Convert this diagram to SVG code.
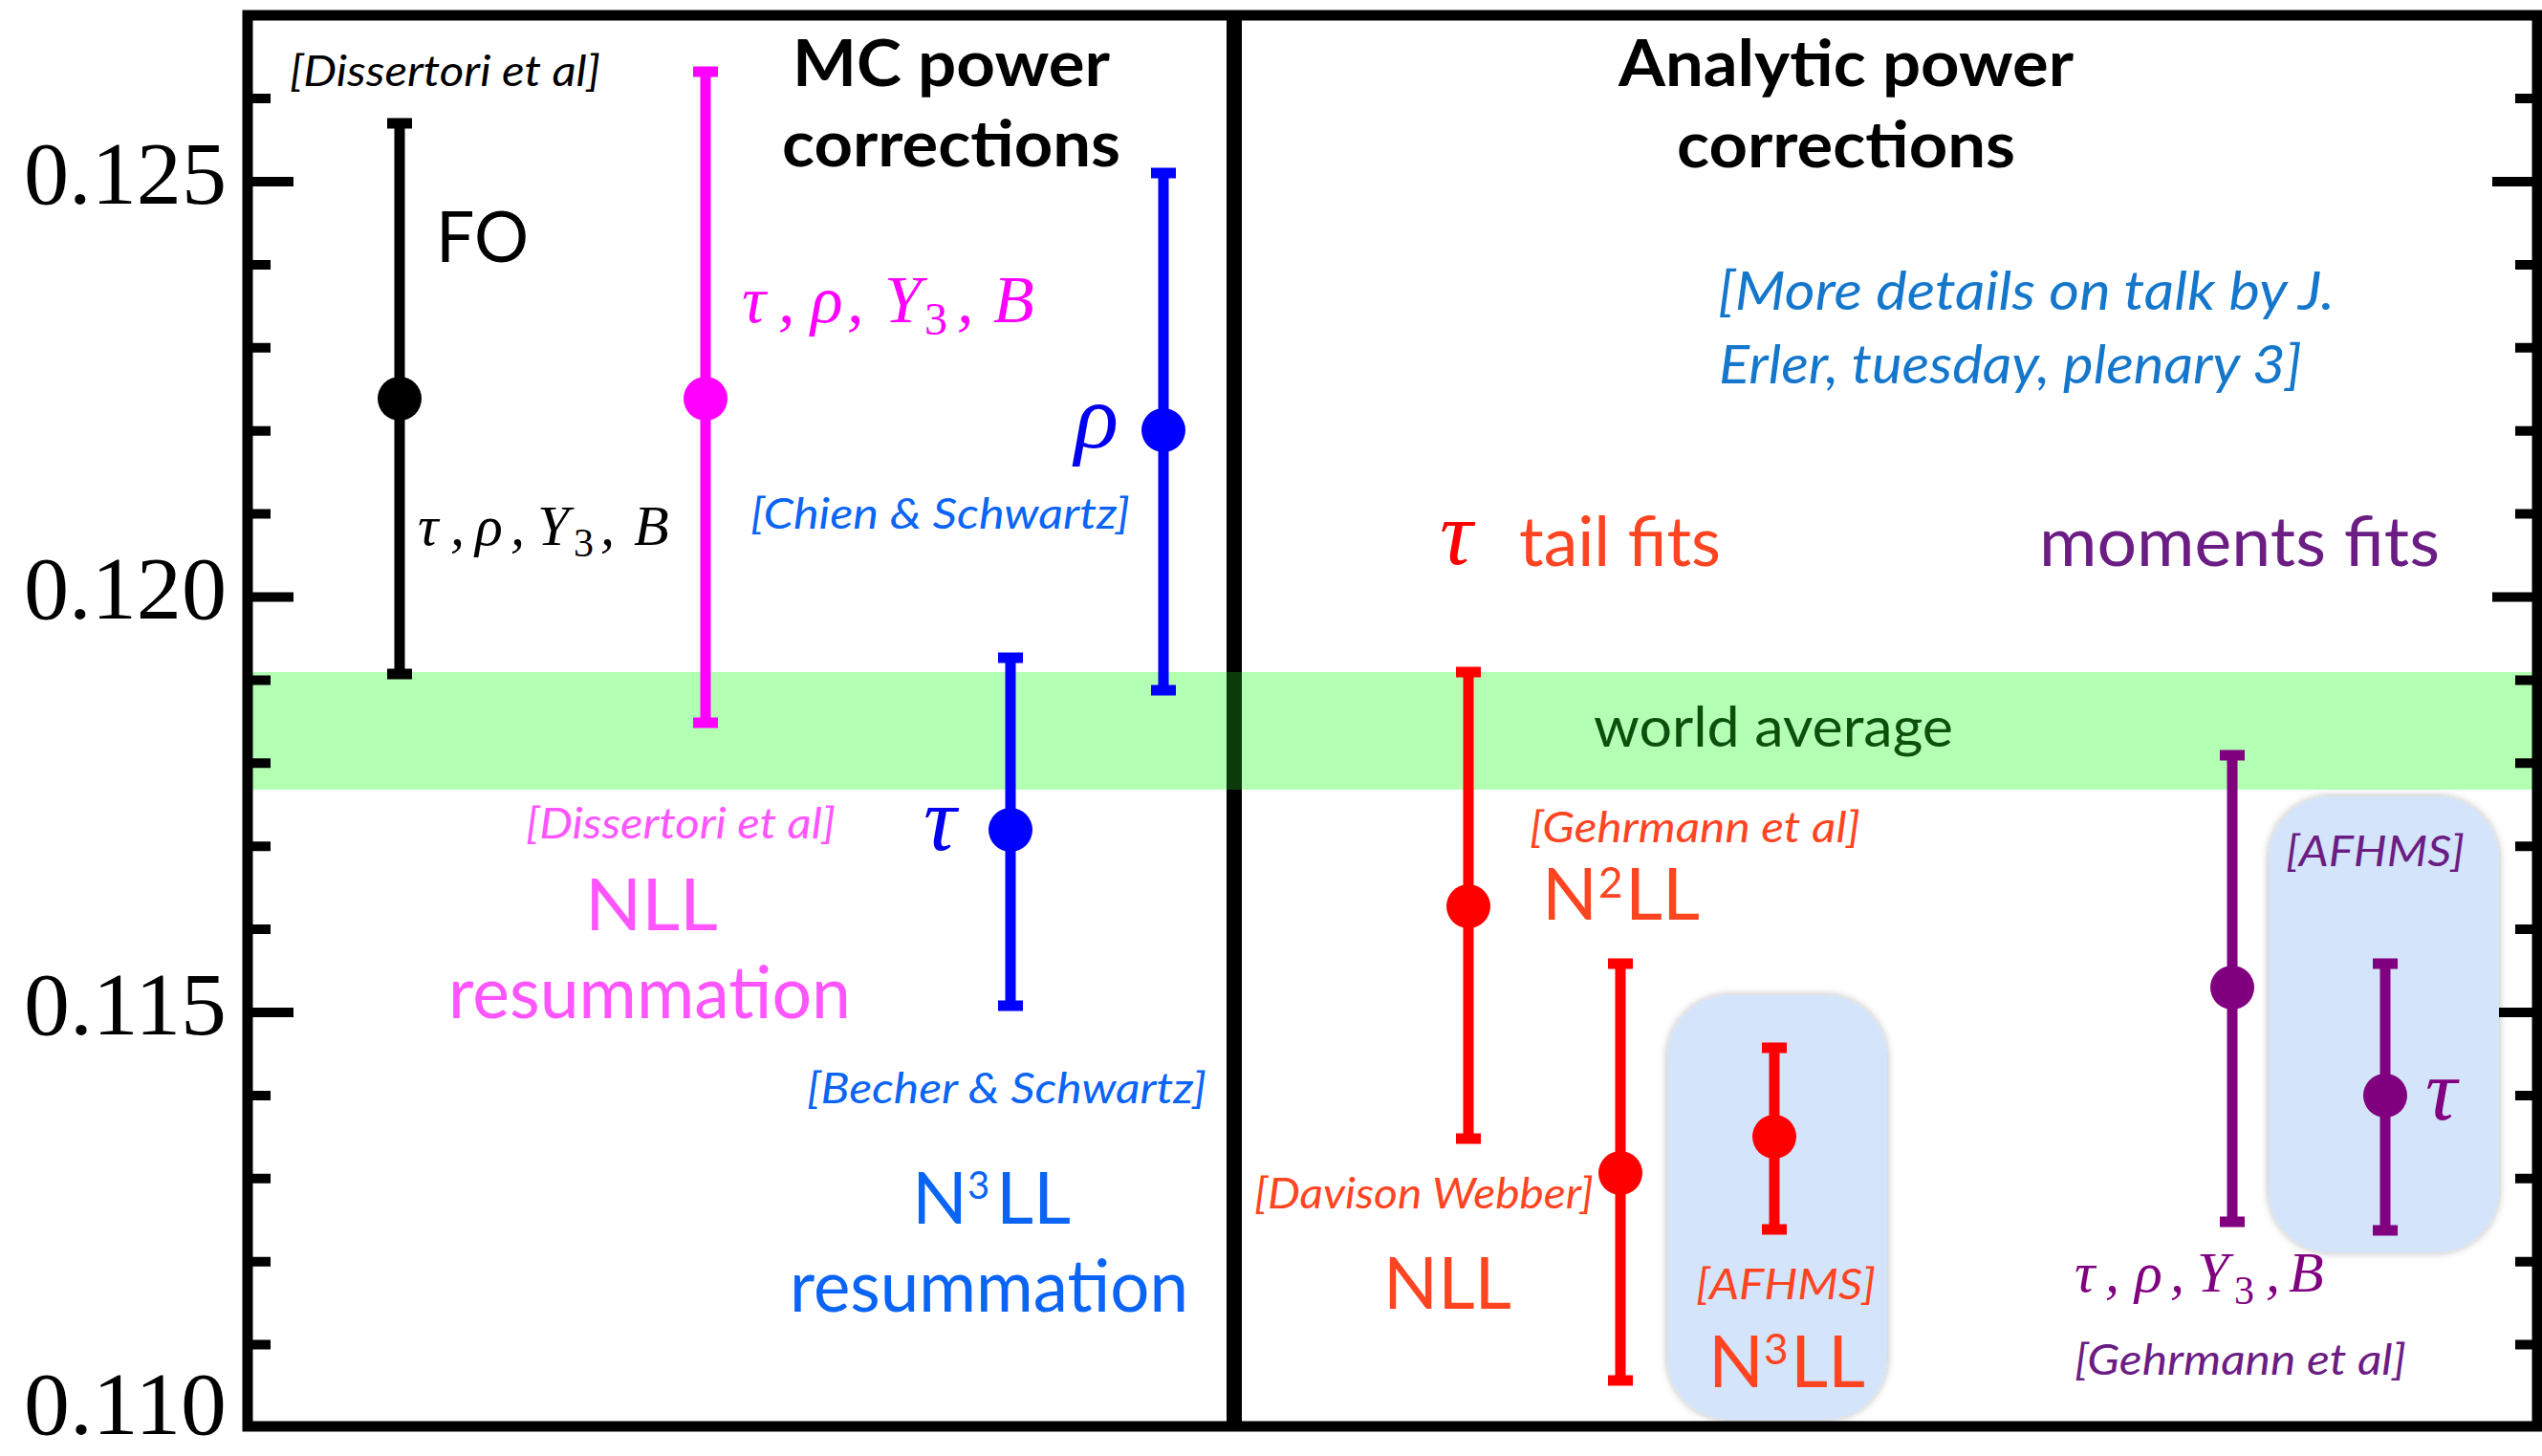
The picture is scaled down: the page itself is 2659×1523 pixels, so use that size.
<svg xmlns="http://www.w3.org/2000/svg" width="2659" height="1523" viewBox="0 0 2659 1523">
<defs>
<style>
.ax{stroke:#000;stroke-width:10;fill:none}
.lab{font-family:"Liberation Serif","Times New Roman",serif;font-size:94px;fill:#000}
.t{font-family:Lato,"Open Sans","Liberation Sans",sans-serif}
.b{font-weight:bold;font-size:66px;fill:#000}
.cite{font-style:italic;font-size:44px}
.big{font-size:76px}
.m{font-family:"Liberation Serif","Times New Roman",serif;font-style:italic}
.up{font-style:normal}
.bk{stroke:#000}.mg{stroke:#ff00ff}.bl{stroke:#0000ff}.rd{stroke:#ff0000}.pu{stroke:#800080}
.bar{stroke-width:11;fill:none}
.cap{stroke-width:11;fill:none}
.box{fill:#d4e4fb;filter:url(#soft)}
</style>
<filter id="soft" x="-10%" y="-10%" width="120%" height="120%">
<feDropShadow dx="0" dy="0" stdDeviation="4" flood-color="#000" flood-opacity="0.3"/>
</filter>
</defs>
<rect x="0" y="0" width="2659" height="1523" fill="#fff"/>

<!-- world average band -->
<g id="band">
<rect x="264" y="703" width="2385" height="123" fill="#b3ffb3"/>
</g>

<!-- frame & axes -->
<g id="frame">
<rect x="259" y="16" width="2395" height="1476" fill="none" stroke="#000" stroke-width="11"/>
<line x1="1291" y1="16" x2="1291" y2="1492" stroke="#000" stroke-width="16"/>
<rect x="1283" y="703" width="16" height="123" fill="#0b3b0b"/>
<path class="ax" d="M264 103.1H283M264 190H307M264 276.9H283M264 363.8H283M264 450.7H283M264 537.6H283M264 624.5H307M264 711.4H283M264 798.3H283M264 885.2H283M264 972.1H283M264 1059H307M264 1145.9H283M264 1232.8H283M264 1319.7H283M264 1406.6H283"/>
<path class="ax" d="M2649 103.1H2631M2649 190H2607M2649 276.9H2631M2649 363.8H2631M2649 450.7H2631M2649 537.6H2631M2649 624.5H2607M2649 711.4H2631M2649 798.3H2631M2649 885.2H2631M2649 972.1H2631M2649 1059H2607M2649 1145.9H2631M2649 1232.8H2631M2649 1319.7H2631M2649 1406.6H2631"/>
<text class="lab" x="237" y="213" text-anchor="end" textLength="212" lengthAdjust="spacingAndGlyphs">0.125</text>
<text class="lab" x="237" y="647" text-anchor="end" textLength="212" lengthAdjust="spacingAndGlyphs">0.120</text>
<text class="lab" x="237" y="1082" text-anchor="end" textLength="212" lengthAdjust="spacingAndGlyphs">0.115</text>
<text class="lab" x="237" y="1500" text-anchor="end" textLength="212" lengthAdjust="spacingAndGlyphs">0.110</text>
</g>

<!-- highlight boxes -->
<g id="box-afhms-tail"><rect class="box" x="1744" y="1041" width="230" height="444" rx="65" ry="65"/></g>
<g id="box-afhms-moments"><rect class="box" x="2373" y="833" width="241" height="477" rx="65" ry="65"/></g>

<!-- section titles -->
<g id="title-mc" class="t b">
<text x="829" y="90" textLength="332" lengthAdjust="spacingAndGlyphs">MC power</text>
<text x="818" y="174" textLength="354" lengthAdjust="spacingAndGlyphs">corrections</text>
</g>
<g id="title-analytic" class="t b">
<text x="1693" y="90" textLength="476" lengthAdjust="spacingAndGlyphs">Analytic power</text>
<text x="1754" y="175" textLength="354" lengthAdjust="spacingAndGlyphs">corrections</text>
</g>
<g id="note-erler" class="t" fill="#1577cc" font-style="italic" font-size="56">
<text x="1797" y="324" textLength="645" lengthAdjust="spacingAndGlyphs">[More details on talk by J.</text>
<text x="1798" y="401" textLength="610" lengthAdjust="spacingAndGlyphs">Erler, tuesday, plenary 3]</text>
</g>

<!-- FO -->
<g id="fo">
<path class="bar bk" d="M418 129V705"/>
<path class="cap bk" d="M405 129H431M405 705H431"/>
<circle cx="418" cy="417" r="23" fill="#000"/>
<text class="t cite" x="303" y="90" fill="#000" textLength="325" lengthAdjust="spacingAndGlyphs">[Dissertori et al]</text>
<text class="t" x="456" y="274" font-size="74" fill="#000" textLength="97" lengthAdjust="spacingAndGlyphs">FO</text>
<text class="m" y="570" font-size="60" fill="#000"><tspan x="437">τ</tspan><tspan x="471">,</tspan><tspan x="497">ρ</tspan><tspan x="534">,</tspan><tspan x="562">Y</tspan><tspan class="up" x="600" y="582" font-size="42">3</tspan><tspan x="628" y="570">,</tspan><tspan x="663">B</tspan></text>
</g>

<!-- NLL resummation (magenta) -->
<g id="nll-resum">
<path class="bar mg" d="M738 75V756"/>
<path class="cap mg" d="M725 75H751M725 756H751"/>
<circle cx="738" cy="417" r="23" fill="#ff00ff"/>
<text class="m" y="337" font-size="70" fill="#ff00ff"><tspan x="776">τ</tspan><tspan x="814">,</tspan><tspan x="848">ρ</tspan><tspan x="886">,</tspan><tspan x="925">Y</tspan><tspan class="up" x="967" y="350" font-size="48">3</tspan><tspan x="1001" y="337">,</tspan><tspan x="1039">B</tspan></text>
<text class="t cite" x="550" y="877" fill="#ff55ff" textLength="324" lengthAdjust="spacingAndGlyphs">[Dissertori et al]</text>
<text class="t big" x="612" y="973" fill="#ff55ff" textLength="139" lengthAdjust="spacingAndGlyphs">NLL</text>
<text class="t big" x="469" y="1065" fill="#ff55ff" textLength="421" lengthAdjust="spacingAndGlyphs">resummation</text>
</g>

<!-- N3LL resummation tau (blue) -->
<g id="n3ll-resum-tau">
<path class="bar bl" d="M1057 688V1052"/>
<path class="cap bl" d="M1044 688H1070M1044 1052H1070"/>
<circle cx="1057" cy="868" r="23" fill="#0000ff"/>
<text class="m" x="966" y="889" font-size="96" fill="#0000ee">τ</text>
<text class="t cite" x="844" y="1154" fill="#0a64f5" textLength="418" lengthAdjust="spacingAndGlyphs">[Becher &amp; Schwartz]</text>
<text class="t big" y="1280" fill="#0a64f5"><tspan x="954">N</tspan><tspan x="1012" y="1254" font-size="40">3</tspan><tspan x="1042" y="1280">LL</tspan></text>
<text class="t big" x="826" y="1372" fill="#0a64f5" textLength="417" lengthAdjust="spacingAndGlyphs">resummation</text>
</g>

<!-- rho (blue) -->
<g id="rho-chien">
<path class="bar bl" d="M1217 181V722"/>
<path class="cap bl" d="M1204 181H1230M1204 722H1230"/>
<circle cx="1217" cy="450" r="23" fill="#0000ff"/>
<text class="m" x="1124" y="468" font-size="96" fill="#0000ee">ρ</text>
<text class="t cite" x="785" y="553" fill="#0a64f5" textLength="397" lengthAdjust="spacingAndGlyphs">[Chien &amp; Schwartz]</text>
</g>

<!-- world average label -->
<g id="world-average">
<text class="t" x="1667" y="781" font-size="58" fill="#0d4f0d" textLength="376" lengthAdjust="spacingAndGlyphs">world average</text>
</g>

<!-- tau tail fits heading -->
<g id="tail-fits">
<text class="m" x="1506" y="590" font-size="96" fill="#ff0000">τ</text>
<text class="t" x="1589" y="592" font-size="72" fill="#ff4422" textLength="211" lengthAdjust="spacingAndGlyphs">tail fits</text>
</g>

<!-- N2LL Gehrmann -->
<g id="n2ll-gehrmann">
<path class="bar rd" d="M1536 703V1191"/>
<path class="cap rd" d="M1523 703H1549M1523 1191H1549"/>
<circle cx="1536" cy="948" r="23" fill="#ff0000"/>
<text class="t cite" x="1600" y="881" fill="#ff4422" textLength="346" lengthAdjust="spacingAndGlyphs">[Gehrmann et al]</text>
<text class="t big" y="962" fill="#ff4422"><tspan x="1613">N</tspan><tspan x="1672" y="939" font-size="44">2</tspan><tspan x="1700" y="962">LL</tspan></text>
</g>

<!-- NLL Davison Webber -->
<g id="nll-davison">
<path class="bar rd" d="M1695 1008V1444"/>
<path class="cap rd" d="M1682 1008H1708M1682 1444H1708"/>
<circle cx="1695" cy="1227" r="23" fill="#ff0000"/>
<text class="t cite" x="1312" y="1264" fill="#ff4422" textLength="355" lengthAdjust="spacingAndGlyphs">[Davison Webber]</text>
<text class="t big" x="1447" y="1369" fill="#ff4422" textLength="134" lengthAdjust="spacingAndGlyphs">NLL</text>
</g>

<!-- N3LL AFHMS tail -->
<g id="n3ll-afhms">
<path class="bar rd" d="M1856 1096V1286"/>
<path class="cap rd" d="M1843 1096H1869M1843 1286H1869"/>
<circle cx="1856" cy="1189" r="23" fill="#ff0000"/>
<text class="t cite" x="1774" y="1359" fill="#ff4422" textLength="188" lengthAdjust="spacingAndGlyphs">[AFHMS]</text>
<text class="t big" y="1451" fill="#ff4422"><tspan x="1787">N</tspan><tspan x="1845" y="1427" font-size="44">3</tspan><tspan x="1873" y="1451">LL</tspan></text>
</g>

<!-- moments fits heading -->
<g id="moments-fits">
<text class="t" x="2133" y="592" font-size="72" fill="#6b1d84" textLength="419" lengthAdjust="spacingAndGlyphs">moments fits</text>
</g>

<!-- moments Gehrmann -->
<g id="moments-gehrmann">
<path class="bar pu" d="M2335 790V1278"/>
<path class="cap pu" d="M2322 790H2348M2322 1278H2348"/>
<circle cx="2335" cy="1033" r="23" fill="#800080"/>
<text class="m" y="1351" font-size="60" fill="#800080"><tspan x="2170">τ</tspan><tspan x="2202">,</tspan><tspan x="2233">ρ</tspan><tspan x="2270">,</tspan><tspan x="2298">Y</tspan><tspan class="up" x="2337" y="1364" font-size="42">3</tspan><tspan x="2370" y="1351">,</tspan><tspan x="2394">B</tspan></text>
<text class="t cite" x="2170" y="1438" fill="#6b1d84" textLength="347" lengthAdjust="spacingAndGlyphs">[Gehrmann et al]</text>
</g>

<!-- moments AFHMS tau -->
<g id="moments-afhms">
<path class="bar pu" d="M2495 1008V1287"/>
<path class="cap pu" d="M2482 1008H2508M2482 1287H2508"/>
<circle cx="2495" cy="1146" r="23" fill="#800080"/>
<text class="t cite" x="2391" y="906" fill="#6b1d84" textLength="187" lengthAdjust="spacingAndGlyphs">[AFHMS]</text>
<text class="m" x="2537" y="1171" font-size="92" fill="#800080">τ</text>
</g>

<g id="connectors"></g>
</svg>
